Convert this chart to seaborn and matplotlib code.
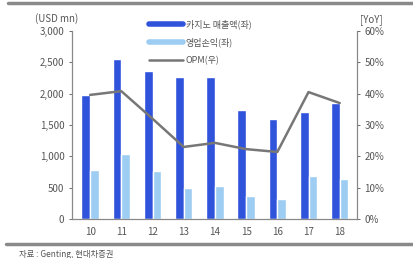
import pandas as pd
import numpy as np
import seaborn as sns
import matplotlib.pyplot as plt
from matplotlib.lines import Line2D

# data
years = ["10", "11", "12", "13", "14", "15", "16", "17", "18"]
casino_sales = [1980, 2550, 2360, 2270, 2260, 1740, 1600, 1710, 1850]
op_profit = [790, 1040, 760, 500, 530, 370, 320, 680, 640]
opm = [39.6, 40.8, 32.0, 23.0, 24.3, 22.3, 21.4, 40.5, 37.0]

sales_name = "카지노 매출액(좌)"
profit_name = "영업손익(좌)"
opm_name = "OPM(우)"

dark_blue = "#3053db"
light_blue = "#9dcdf2"
line_gray = "#777777"
text_gray = "#555555"

sns.set_style("white")
plt.rcParams["font.family"] = ["Noto Sans CJK KR", "DejaVu Sans"]

df = pd.DataFrame({
    "year": years * 2,
    "value": casino_sales + op_profit,
    "series": [sales_name] * len(years) + [profit_name] * len(years),
})

fig = plt.figure(figsize=(4.14, 2.58), dpi=100)
ax = fig.add_axes([0.174, 0.151, 0.688, 0.729])

sns.barplot(data=df, x="year", y="value", hue="series",
            palette=[dark_blue, light_blue], width=0.56, saturation=1,
            ax=ax, legend=False)
ax.set_ylim(0, 3000)
ax.set_yticks(np.arange(0, 3001, 500))
ax.set_yticklabels([f"{v:,}" for v in range(0, 3001, 500)])
ax.set_xlim(-0.58, 8.55)
ax.set_xlabel("")
ax.set_ylabel("")

ax2 = ax.twinx()
sns.lineplot(x=np.arange(len(years)), y=opm, color=line_gray, linewidth=1.8, ax=ax2)
ax2.set_ylim(0, 60)
ax2.set_yticks(np.arange(0, 61, 10))
ax2.set_yticklabels([f"{v}%" for v in range(0, 61, 10)])
ax2.set_xlim(-0.58, 8.55)

for a in (ax, ax2):
    a.spines["top"].set_visible(False)
    for s in ("left", "right", "bottom"):
        a.spines[s].set_color("#888888")
        a.spines[s].set_linewidth(0.8)
    a.tick_params(labelsize=7, colors=text_gray, length=2, width=0.6)
ax.tick_params(axis="y", left=True, right=False)
ax.tick_params(axis="x", bottom=False, pad=4)
ax2.tick_params(axis="y", right=True)

fig.text(0.085, 0.915, "(USD mn)", fontsize=7, color=text_gray)
fig.text(0.87, 0.915, "[YoY]", fontsize=7, color=text_gray)

handles = [
    Line2D([], [], color=dark_blue, linewidth=4),
    Line2D([], [], color=light_blue, linewidth=4),
    Line2D([], [], color=line_gray, linewidth=1.8),
]
ax.legend(handles, [sales_name, profit_name, opm_name], loc="upper left",
          bbox_to_anchor=(0.24, 1.105), frameon=False, fontsize=6.5,
          handlelength=3.8, labelspacing=0.95, handletextpad=0.3,
          labelcolor=text_gray)

# top and bottom rules of the figure box
fig.add_artist(Line2D([0.02, 1.0], [0.988, 0.988], color="#8a8a8a", linewidth=2.5))
fig.add_artist(Line2D([0.015, 1.0], [0.055, 0.055], color="#8a8a8a", linewidth=2.5))
fig.text(0.047, 0.005, "자료 : Genting, 현대차증권", fontsize=6, color=text_gray)

fig.savefig("out.png", dpi=100)
